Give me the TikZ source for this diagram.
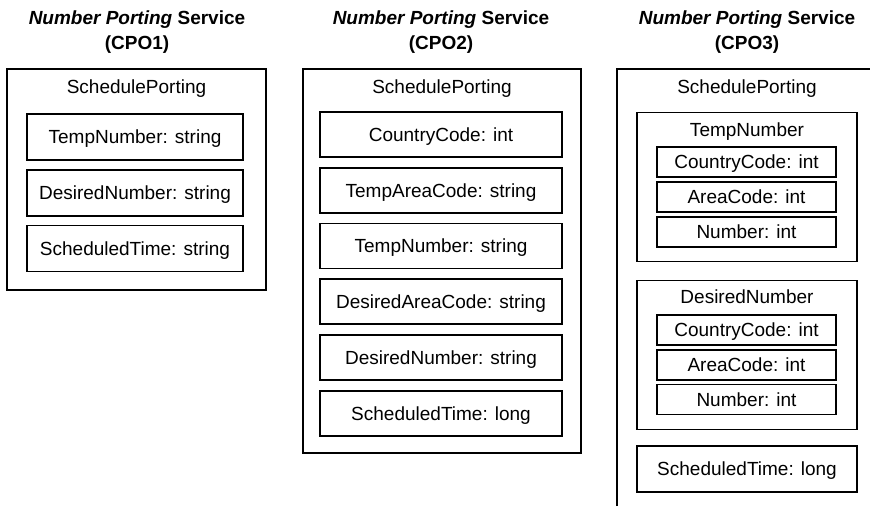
\documentclass[tikz,border=0pt]{standalone}
\usepackage{fontspec}
\setmainfont{Liberation Sans}
\begin{document}
\begin{tikzpicture}[
    x=1pt, y=-1pt,
    every node/.style={font=\fontsize{19}{25}\selectfont, align=center, inner sep=0pt,
                       text height=13.6pt, text depth=0pt},
    ttl/.style={font=\fontsize{19}{25}\selectfont\bfseries, text height=, text depth=},
    box/.style={draw, line width=1.3pt},
    fldA/.style={box, minimum width=216pt, minimum height=46pt},
    fldB/.style={box, minimum width=242pt, minimum height=45pt},
    grp/.style={box, minimum width=220pt, minimum height=149pt},
    sub/.style={box, minimum width=179pt, minimum height=30pt}
]
  \useasboundingbox (0,0) rectangle (870,506);

  % CPO1: flat strings
  \node[ttl] (ttlA) at (137,32) {\textit{Number Porting} Service\\(CPO1)};
  \node[box, minimum width=259pt, minimum height=221pt] (spA) at (136.5,179.5) {};
  \node (spAlbl) at (136.5,87) {SchedulePorting};
  \node[fldA] (tmpA) at (135,137) {TempNumber: string};
  \node[fldA] (desA) at (135,193) {DesiredNumber: string};
  \node[fldA] (timA) at (135,248.5) {ScheduledTime: string};

  % CPO2: split codes
  \node[ttl] (ttlB) at (441,32) {\textit{Number Porting} Service\\(CPO2)};
  \node[box, minimum width=278pt, minimum height=384pt] (spB) at (442,261) {};
  \node (spBlbl) at (442,87) {SchedulePorting};
  \node[fldB] (ccB) at (441,134.5) {CountryCode: int};
  \node[fldB] (tacB) at (441,190.5) {TempAreaCode: string};
  \node[fldB] (tmpB) at (441,246) {TempNumber: string};
  \node[fldB] (dacB) at (441,301.5) {DesiredAreaCode: string};
  \node[fldB] (desB) at (441,357.5) {DesiredNumber: string};
  \node[fldB] (timB) at (441,413.5) {ScheduledTime: long};

  % CPO3: nested numbers, box runs off the page
  \node[ttl] (ttlC) at (747,32) {\textit{Number Porting} Service\\(CPO3)};
  \draw[line width=1.3pt] (617,506) |- (870,69);
  \node (spClbl) at (747,87) {SchedulePorting};

  \node[grp] (tmpC) at (747,187) {};
  \node (tmpClbl) at (747,130) {TempNumber};
  \node[sub] (tmpCcc) at (746.5,162) {CountryCode: int};
  \node[sub] (tmpCac) at (746.5,197) {AreaCode: int};
  \node[sub] (tmpCnr) at (746.5,232) {Number: int};

  \node[grp] (desC) at (747,355) {};
  \node (desClbl) at (747,297) {DesiredNumber};
  \node[sub] (desCcc) at (746.5,330) {CountryCode: int};
  \node[sub] (desCac) at (746.5,365) {AreaCode: int};
  \node[sub] (desCnr) at (746.5,399.5) {Number: int};

  \node[box, minimum width=220pt, minimum height=46pt] (timC) at (747,469) {ScheduledTime: long};
\end{tikzpicture}
\end{document}
